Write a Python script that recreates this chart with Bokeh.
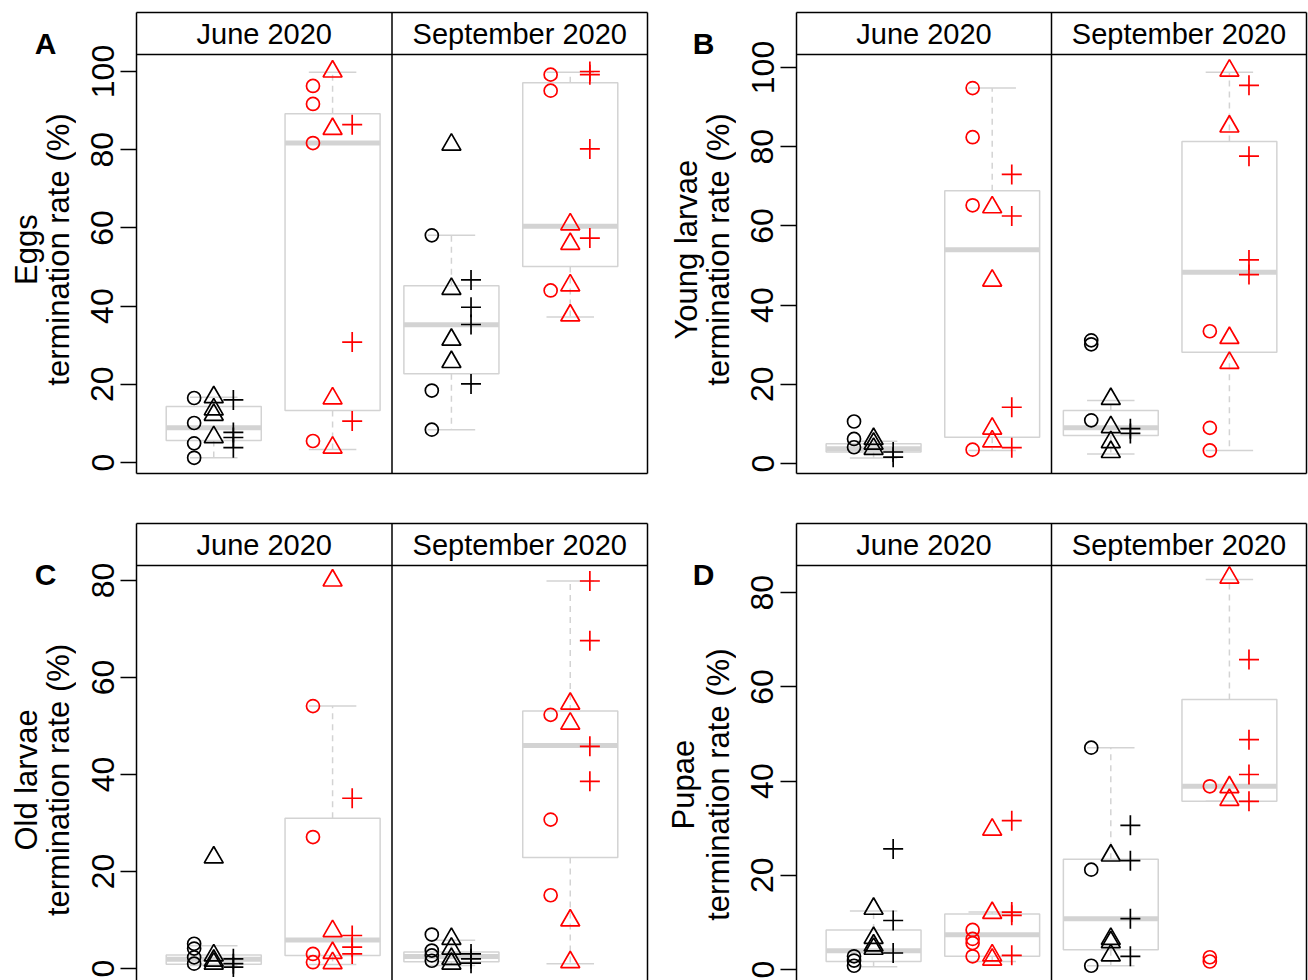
import numpy as np
from bokeh.plotting import figure
from bokeh.layouts import gridplot
from bokeh.models import Range1d, FixedTicker, LinearAxis, Span, ColumnDataSource
from bokeh.core.properties import value
from bokeh.embed import file_html
from bokeh.resources import INLINE

# ---------------- data ----------------
# x positions: 1 = June/black, 2 = June/red, 3 = September/black, 4 = September/red
group_pos = [1, 2, 3, 4]
group_color = ["black", "#FF0000", "black", "#FF0000"]
months = ["June 2020", "September 2020"]

# Panel A - Eggs
A_circle = [[16.5, 10.1, 4.9, 1.2], [96.3, 91.7, 81.7, 5.5], [58.1, 18.4, 8.4], [99.2, 95.1, 44.0]]
A_triangle = [[16.7, 13.6, 12.2, 6.5], [100.0, 85.3, 16.4, 3.8], [81.3, 44.4, 31.4, 25.7], [60.9, 55.9, 45.3, 37.6]]
A_plus = [[16.0, 7.7, 6.4, 3.8], [86.4, 30.8, 10.6], [46.7, 39.7, 35.3, 20.1], [100.0, 99.2, 80.2, 57.4]]
A_q1 = [5.6, 13.3, 22.7, 50.1]
A_med = [8.9, 81.7, 35.2, 60.4]
A_q3 = [14.3, 89.2, 45.2, 97.1]
A_lo = [1.2, 3.3, 8.4, 37.2]
A_hi = [16.7, 99.8, 58.1, 99.8]

# Panel B - Young larvae
B_circle = [[10.6, 6.2, 4.1], [94.8, 82.4, 65.2, 3.5], [31.1, 30.1, 10.9], [33.4, 9.0, 3.3]]
B_triangle = [[6.2, 5.0, 3.7], [64.7, 46.2, 8.8, 5.6], [16.3, 9.2, 5.4, 2.9], [99.2, 85.1, 31.7, 25.4]]
B_plus = [[2.9, 1.6], [73.0, 62.5, 14.2, 4.0], [8.8, 7.6], [95.5, 77.6, 51.4, 47.7]]
B_q1 = [2.9, 6.6, 7.1, 28.1]
B_med = [3.7, 54.0, 9.0, 48.3]
B_q3 = [5.0, 68.9, 13.4, 81.3]
B_lo = [1.4, 3.3, 2.4, 3.3]
B_hi = [5.6, 94.8, 15.9, 98.8]

# Panel C - Old larvae
C_circle = [[5.1, 4.1, 2.3, 1.0], [54.1, 27.1, 3.0, 1.3], [7.0, 3.7, 2.7, 1.6], [52.3, 30.7, 15.1]]
C_triangle = [[22.9, 2.7, 1.6, 1.0], [80.0, 7.7, 3.2, 1.1], [6.1, 4.1, 2.0, 1.0], [54.6, 50.5, 9.9, 1.3]]
C_plus = [[2.0, 1.0, 0.3], [35.1, 6.8, 4.4, 3.0], [3.0, 2.0, 1.1], [79.9, 67.6, 45.8, 38.6]]
C_q1 = [0.9, 2.7, 1.4, 22.9]
C_med = [1.9, 5.9, 2.5, 46.0]
C_q3 = [2.8, 31.0, 3.4, 53.1]
C_lo = [0.6, 0.8, 0.6, 1.0]
C_hi = [4.7, 54.1, 5.8, 79.9]

# Panel D - Pupae
D_circle = [[2.8, 1.9, 0.8], [8.4, 6.5, 5.6, 2.8], [47.1, 21.2, 0.8], [38.9, 2.6, 1.7]]
D_triangle = [[12.9, 6.7, 5.1, 4.4], [29.7, 12.0, 3.0, 2.1], [24.2, 6.5, 5.8, 3.0], [83.2, 38.7, 36.0]]
D_plus = [[25.6, 10.4, 3.5], [31.6, 12.2, 11.5, 3.0], [30.6, 23.1, 10.8, 2.8], [65.8, 48.8, 41.4, 35.7]]
D_q1 = [1.7, 2.8, 4.2, 35.7]
D_med = [4.0, 7.4, 10.8, 38.9]
D_q3 = [8.4, 11.8, 23.4, 57.3]
D_lo = [0.6, 1.7, 0.8, 35.7]
D_hi = [12.4, 12.2, 47.1, 82.8]

ticks_AB = [0, 20, 40, 60, 80, 100]
ticks_CD = [0, 20, 40, 60, 80]

# ---------------- styling / layout ----------------
FONT = "Liberation Sans"
BOX_GRAY = "#D3D3D3"
X_START, X_END = 0.35, 4.65
FACET_SPLIT = 2.5
AXIS_W = 60          # room for ticks + tick labels left of each frame


def make_margin(letter, stage, geom):
    """Narrow figure left of a panel holding the panel letter and the y title."""
    (fig_x0, fig_y0, fig_x1, fig_y1, fl, fr, ft, fb, zero, k, strip_px,
     letter_xy, title_x, title_y, bottom_axis) = geom
    x0 = fig_x0
    x1 = fl - AXIS_W
    m = figure(width=x1 - x0, height=fig_y1 - fig_y0,
               x_range=Range1d(x0, x1), y_range=Range1d(fig_y1, fig_y0),
               x_axis_location=None, y_axis_location=None,
               output_backend="svg", toolbar_location=None,
               min_border_left=0, min_border_right=0, min_border_top=0, min_border_bottom=0)
    m.outline_line_color = None
    m.grid.visible = False
    m.text(x=[letter_xy[0]], y=[letter_xy[1]], text=[letter], text_font=value(FONT),
           text_font_size="30px", text_font_style="bold", text_align="center",
           text_baseline="middle", text_color="black")
    m.text(x=list(title_x), y=[title_y, title_y], text=[stage, "termination rate (%)"],
           angle=np.pi / 2, text_font=value(FONT), text_font_size="31px",
           text_align="center", text_baseline="middle", text_color="black")
    return m


def make_panel(circles, triangles, pluses, q1, med, q3, lo, hi, yticks, geom):
    (fig_x0, fig_y0, fig_x1, fig_y1, fl, fr, ft, fb, zero, k, strip_px,
     letter_xy, title_x, title_y, bottom_axis) = geom
    y_lo = (zero - fb) / k
    y_hi = (zero - ft) / k
    strip_y = (zero - strip_px) / k
    px0 = fl - AXIS_W

    p = figure(width=fig_x1 - px0, height=fig_y1 - fig_y0,
               x_range=Range1d(X_START, X_END), y_range=Range1d(y_lo, y_hi),
               x_axis_location=None, output_backend="svg", toolbar_location=None,
               min_border_left=AXIS_W, min_border_right=fig_x1 - fr,
               min_border_top=ft - fig_y0, min_border_bottom=fig_y1 - fb)
    p.outline_line_color = None
    p.grid.visible = False
    p.background_fill_color = "white"
    p.border_fill_color = "white"

    ax = p.yaxis[0]
    ax.ticker = FixedTicker(ticks=yticks)
    ax.major_label_orientation = "vertical"
    ax.major_tick_out = 16
    ax.major_tick_in = 0
    ax.minor_tick_out = 0
    ax.minor_tick_in = 0
    ax.major_tick_line_width = 1.5
    ax.axis_line_width = 1.5
    ax.major_label_standoff = 7
    ax.major_label_text_font = FONT
    ax.major_label_text_font_size = "32px"
    ax.major_label_text_color = "black"

    sides = ["right", "above"] + (["below"] if bottom_axis else [])
    for side in sides:
        b = LinearAxis(ticker=FixedTicker(ticks=[]))
        b.major_tick_out = 0
        b.major_tick_in = 0
        b.minor_tick_out = 0
        b.minor_tick_in = 0
        b.major_label_standoff = 0
        b.axis_line_width = 1.5
        b.axis_line_color = "black"
        p.add_layout(b, side)

    # strip and facet divider
    p.add_layout(Span(location=strip_y, dimension="width", line_color="black", line_width=1.5))
    p.add_layout(Span(location=FACET_SPLIT, dimension="height", line_color="black", line_width=1.5))
    p.text(x=[(X_START + FACET_SPLIT) / 2, (FACET_SPLIT + X_END) / 2],
           y=[(strip_y + y_hi) / 2] * 2, text=months,
           text_font=value(FONT), text_font_size="29px", text_align="center",
           text_baseline="middle", text_color="black")

    # boxplots
    xs = np.array(group_pos, dtype=float)
    hw = 0.4
    cw = 0.2
    src = ColumnDataSource(dict(x=xs, l=xs - hw, r=xs + hw, cl=xs - cw, cr=xs + cw,
                                q1=q1, med=med, q3=q3, lo=lo, hi=hi))
    p.segment(x0="x", x1="x", y0="q3", y1="hi", source=src, line_color=BOX_GRAY,
              line_width=1.5, line_dash="6 5")
    p.segment(x0="x", x1="x", y0="q1", y1="lo", source=src, line_color=BOX_GRAY,
              line_width=1.5, line_dash="6 5")
    p.segment(x0="cl", x1="cr", y0="hi", y1="hi", source=src, line_color=BOX_GRAY, line_width=1.5)
    p.segment(x0="cl", x1="cr", y0="lo", y1="lo", source=src, line_color=BOX_GRAY, line_width=1.5)
    p.quad(left="l", right="r", bottom="q1", top="q3", source=src, fill_color=None,
           line_color=BOX_GRAY, line_width=1.5)
    p.segment(x0="l", x1="r", y0="med", y1="med", source=src, line_color=BOX_GRAY, line_width=5)

    # points
    for vals, marker, off, size in ((circles, "circle", -0.165, 13),
                                    (triangles, "triangle", 0.0, 19),
                                    (pluses, "cross", 0.165, 20)):
        for gi, ys in enumerate(vals):
            p.scatter(x=[group_pos[gi] + off] * len(ys), y=ys, marker=marker, size=size,
                      fill_color=None, line_color=group_color[gi], line_width=1.7)
    return p


# (fig_x0, fig_y0, fig_x1, fig_y1, frame_l, frame_r, frame_t, frame_b, zero_px, px_per_unit,
#  strip_px, letter_xy, title_x, title_y, bottom_axis) -- all in page pixels
geom_A = (0, 0, 654, 490, 136, 647, 12, 473, 462, 3.91, 54, (45, 33), (26, 57.5), 252, True)
geom_B = (654, 0, 1308, 490, 796, 1306, 12, 473, 463, 3.96, 54, (703, 33), (686, 717.5), 252, True)
geom_C = (0, 490, 654, 980, 136, 647, 523, 980, 968, 4.85, 565, (45, 545), (26, 57.5), 765, False)
geom_D = (654, 490, 1308, 980, 796, 1306, 523, 980, 969, 4.71, 565, (703, 545), (683, 717.5), 770, False)

mA = make_margin("A", "Eggs", geom_A)
mB = make_margin("B", "Young larvae", geom_B)
mC = make_margin("C", "Old larvae", geom_C)
mD = make_margin("D", "Pupae", geom_D)
pA = make_panel(A_circle, A_triangle, A_plus, A_q1, A_med, A_q3, A_lo, A_hi, ticks_AB, geom_A)
pB = make_panel(B_circle, B_triangle, B_plus, B_q1, B_med, B_q3, B_lo, B_hi, ticks_AB, geom_B)
pC = make_panel(C_circle, C_triangle, C_plus, C_q1, C_med, C_q3, C_lo, C_hi, ticks_CD, geom_C)
pD = make_panel(D_circle, D_triangle, D_plus, D_q1, D_med, D_q3, D_lo, D_hi, ticks_CD, geom_D)

layout = gridplot([[mA, pA, mB, pB], [mC, pC, mD, pD]], toolbar_location=None)
open("out.html", "w").write(file_html(layout, INLINE))
